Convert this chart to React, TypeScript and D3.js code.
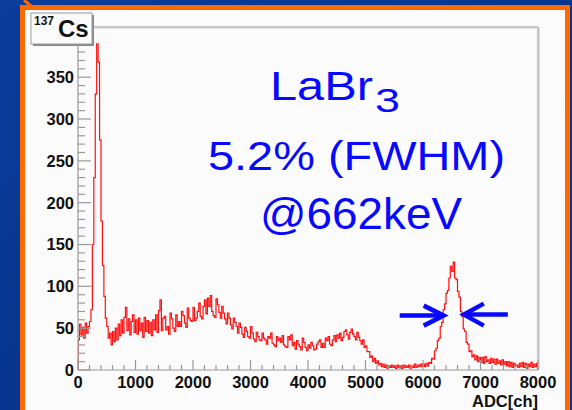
import React from "react";
import * as d3 from "d3";

// Canvas
const W = 572;
const H = 410;

// 137Cs spectrum, 25-channel bins from channel 0 to 8000
const BIN_WIDTH = 25;
const counts: number[] = [
  // 0 - 225
  36, 55, 42, 51, 38, 56, 44, 52, 58, 72,
  // 250 - 475
  150, 230, 330, 390, 368, 275, 178, 125, 88, 62,
  // 500 - 725
  52, 38, 44, 30, 46, 34, 50, 36, 55, 41,
  // 750 - 975
  60, 44, 63, 75, 47, 61, 42, 58, 66, 45,
  // 1000 - 1225
  60, 43, 62, 47, 56, 39, 63, 46, 59, 44,
  // 1250 - 1475
  57, 41, 60, 48, 66, 45, 71, 84, 47, 62,
  // 1500 - 1725
  64, 48, 52, 43, 68, 61, 50, 46, 66, 52,
  // 1750 - 1975
  58, 52, 70, 65, 56, 51, 74, 62, 59, 58,
  // 2000 - 2225
  75, 59, 62, 70, 80, 64, 61, 76, 84, 67,
  // 2250 - 2475
  86, 76, 89, 70, 65, 63, 85, 78, 69, 62,
  // 2500 - 2725
  76, 68, 61, 55, 68, 62, 54, 49, 62, 57,
  // 2750 - 2975
  52, 44, 56, 51, 43, 39, 51, 46, 40, 38,
  // 3000 - 3225
  52, 44, 37, 34, 45, 40, 36, 35, 44, 38,
  // 3250 - 3475
  36, 31, 40, 38, 44, 32, 30, 28, 40, 35,
  // 3500 - 3725
  38, 33, 41, 30, 28, 27, 40, 36, 42, 29,
  // 3750 - 3975
  33, 25, 35, 31, 28, 24, 38, 33, 27, 23,
  // 4000 - 4225
  30, 26, 33, 29, 24, 25, 31, 34, 36, 27,
  // 4250 - 4475
  32, 27, 38, 35, 40, 31, 29, 36, 41, 34,
  // 4500 - 4725
  42, 38, 44, 35, 39, 46, 48, 42, 37, 45,
  // 4750 - 4975
  49, 43, 40, 36, 45, 39, 35, 31, 36, 27,
  // 5000 - 5225
  29, 22, 22, 15, 17, 10, 14, 8, 11, 6,
  // 5250 - 5475
  8, 4, 7, 3, 6, 2, 5, 3, 6, 3,
  // 5500 - 5725
  5, 2, 6, 3, 5, 2, 6, 3, 5, 3,
  // 5750 - 5975
  6, 2, 5, 3, 7, 3, 6, 4, 7, 4,
  // 6000 - 6225
  7, 4, 8, 5, 9, 8, 14, 13, 23, 26,
  // 6250 - 6475
  35, 38, 52, 57, 72, 79, 92, 95, 110, 124,
  // 6500 - 6725
  118, 129, 110, 108, 94, 87, 70, 64, 49, 46,
  // 6750 - 6975
  33, 31, 22, 23, 16, 18, 12, 17, 10, 15,
  // 7000 - 7225
  9, 15, 8, 16, 10, 12, 8, 14, 9, 13,
  // 7250 - 7475
  7, 13, 8, 11, 6, 12, 7, 10, 5, 10,
  // 7500 - 7725
  4, 9, 3, 8, 5, 6, 3, 8, 4, 9,
  // 7750 - 7975
  3, 8, 2, 7, 4, 9, 3, 7, 4, 8,
];

const X_MAX = 8000;
const Y_MAX = 410;
const xMajorTicks = [0, 1000, 2000, 3000, 4000, 5000, 6000, 7000, 8000];
const yMajorTicks = [0, 50, 100, 150, 200, 250, 300, 350, 400];
const yLabels = [0, 50, 100, 150, 200, 250, 300, 350];
const X_MINOR_STEP = 200;
const Y_MINOR_STEP = 10;

// Half-maximum markers of the 662 keV photopeak
const fwhmLevel = 65;
const fwhmLeftChannel = 6360;
const fwhmRightChannel = 6710;

const titleLines = ["5.2% (FWHM)", "@662keV"];

// Plot frame
const left = 78;
const right = 538;
const top = 27;
const bottom = 370;

const AXIS_FONT = "'Liberation Sans', Arial, Helvetica, sans-serif";

export default function App() {
  const x = d3.scaleLinear().domain([0, X_MAX]).range([left, right]);
  const y = d3.scaleLinear().domain([0, Y_MAX]).range([bottom, top]);

  const pts: [number, number][] = [[0, 0]];
  counts.forEach((c, i) => pts.push([i * BIN_WIDTH, c]));
  pts.push([counts.length * BIN_WIDTH, counts[counts.length - 1]]);
  pts.push([counts.length * BIN_WIDTH, 0]);
  const histPath =
    d3
      .line<[number, number]>()
      .x((d) => x(d[0]))
      .y((d) => y(d[1]))
      .curve(d3.curveStepAfter)(pts) || "";

  const xMinor = d3.range(0, X_MAX + 1, X_MINOR_STEP).filter((v) => v % 1000 !== 0);
  const yMinor = d3.range(0, Y_MAX + 1, Y_MINOR_STEP).filter((v) => v % 50 !== 0);

  const arrowY = y(fwhmLevel);
  const lTip = x(fwhmLeftChannel);
  const rTip = x(fwhmRightChannel);
  const blue = "#0808ff";

  return (
    <div style={{ position: "fixed", left: 0, top: 0 }}>
      <svg width={W} height={H} viewBox={`0 0 ${W} ${H}`} style={{ display: "block" }}>
        <defs>
          <linearGradient id="bg" x1="0" y1="0" x2="1" y2="1">
            <stop offset="0" stopColor="#0b3c9c" />
            <stop offset="0.5" stopColor="#07358f" />
            <stop offset="1" stopColor="#0a3a98" />
          </linearGradient>
          <clipPath id="plotClip">
            <rect x={left} y={top} width={right - left} height={bottom - top} />
          </clipPath>
        </defs>

        {/* slide background and orange frame */}
        <rect x={0} y={0} width={W} height={H} fill="url(#bg)" />
        <rect x={22.5} y={7.5} width={545} height={H} fill="#fbfbfb" stroke="#ff6a00" strokeWidth={5} />
        <line x1={24} y1={0} x2={31} y2={6} stroke="#ff6a00" strokeWidth={3} />

        {/* frame top & right */}
        <line x1={left} y1={top} x2={right} y2={top} stroke="#b4b4b4" strokeWidth={1.5} />
        <line x1={right} y1={top} x2={right} y2={bottom} stroke="#b4b4b4" strokeWidth={1.5} />
        <line x1={left} y1={top + 1.5} x2={right - 1.5} y2={top + 1.5} stroke="#e4e4e4" strokeWidth={1} />
        <line x1={right + 1.5} y1={top} x2={right + 1.5} y2={bottom} stroke="#dcdcdc" strokeWidth={1} />

        {/* histogram */}
        <path d={histPath} fill="none" stroke="#ff1010" strokeWidth={1.2} clipPath="url(#plotClip)" />

        {/* axes */}
        <g stroke="#9a9a9a" strokeWidth={1.2}>
          <line x1={left} y1={top} x2={left} y2={bottom} />
          <line x1={left} y1={bottom} x2={right} y2={bottom} />
          {xMajorTicks.map((t) => (
            <line key={`xM${t}`} x1={x(t)} x2={x(t)} y1={bottom} y2={bottom - 10} />
          ))}
          {xMinor.map((t) => (
            <line key={`xm${t}`} x1={x(t)} x2={x(t)} y1={bottom} y2={bottom - 5} />
          ))}
          {yMajorTicks.map((t) => (
            <line key={`yM${t}`} x1={left} x2={left + 13} y1={y(t)} y2={y(t)} />
          ))}
          {yMinor.map((t) => (
            <line key={`ym${t}`} x1={left} x2={left + 7} y1={y(t)} y2={y(t)} />
          ))}
        </g>

        <g fontFamily={AXIS_FONT} fontWeight="bold" fontSize={16.5} fill="#111">
          {xMajorTicks.map((t) => (
            <text key={`xl${t}`} x={x(t)} y={388} textAnchor="middle">
              {t}
            </text>
          ))}
          {yLabels.map((t) => (
            <text key={`yl${t}`} x={74} y={y(t)} dy="0.36em" textAnchor="end">
              {t}
            </text>
          ))}
          <text x={right} y={407} textAnchor="end">
            ADC[ch]
          </text>
        </g>

        {/* histogram title box */}
        <rect x={33} y={15} width={61} height={31} fill="#8a8a8a" />
        <rect x={31} y={13} width={61} height={31} fill="#fcfcfc" stroke="#9c9c9c" strokeWidth={1} />
        <text fontFamily={AXIS_FONT} fontWeight="bold" fill="#111">
          <tspan x={34} y={25} fontSize={12}>
            137
          </tspan>
          <tspan x={58} y={37} fontSize={24}>
            Cs
          </tspan>
        </text>

        {/* annotation */}
        <g fontFamily={AXIS_FONT} fill={blue}>
          <text x={270} y={100} fontSize={41} textLength={103} lengthAdjust="spacingAndGlyphs">
            LaBr
          </text>
          <text x={375} y={112} fontSize={34} textLength={25} lengthAdjust="spacingAndGlyphs">
            3
          </text>
          <text x={208} y={170} fontSize={41} textLength={297} lengthAdjust="spacingAndGlyphs">
            {titleLines[0]}
          </text>
          <text x={260} y={229} fontSize={45} textLength={202} lengthAdjust="spacingAndGlyphs">
            {titleLines[1]}
          </text>
        </g>

        {/* FWHM arrows */}
        <g stroke={blue} strokeWidth={4.5} fill="none" strokeLinecap="butt">
          <line x1={lTip - 44} y1={arrowY} x2={lTip - 2} y2={arrowY} />
          <polyline points={`${lTip - 20},${arrowY - 10} ${lTip},${arrowY} ${lTip - 20},${arrowY + 10}`} />
          <line x1={rTip + 2} y1={arrowY - 1} x2={rTip + 44} y2={arrowY - 1} />
          <polyline
            points={`${rTip + 20},${arrowY - 12} ${rTip},${arrowY - 1} ${rTip + 20},${arrowY + 10}`}
          />
        </g>
      </svg>
    </div>
  );
}
